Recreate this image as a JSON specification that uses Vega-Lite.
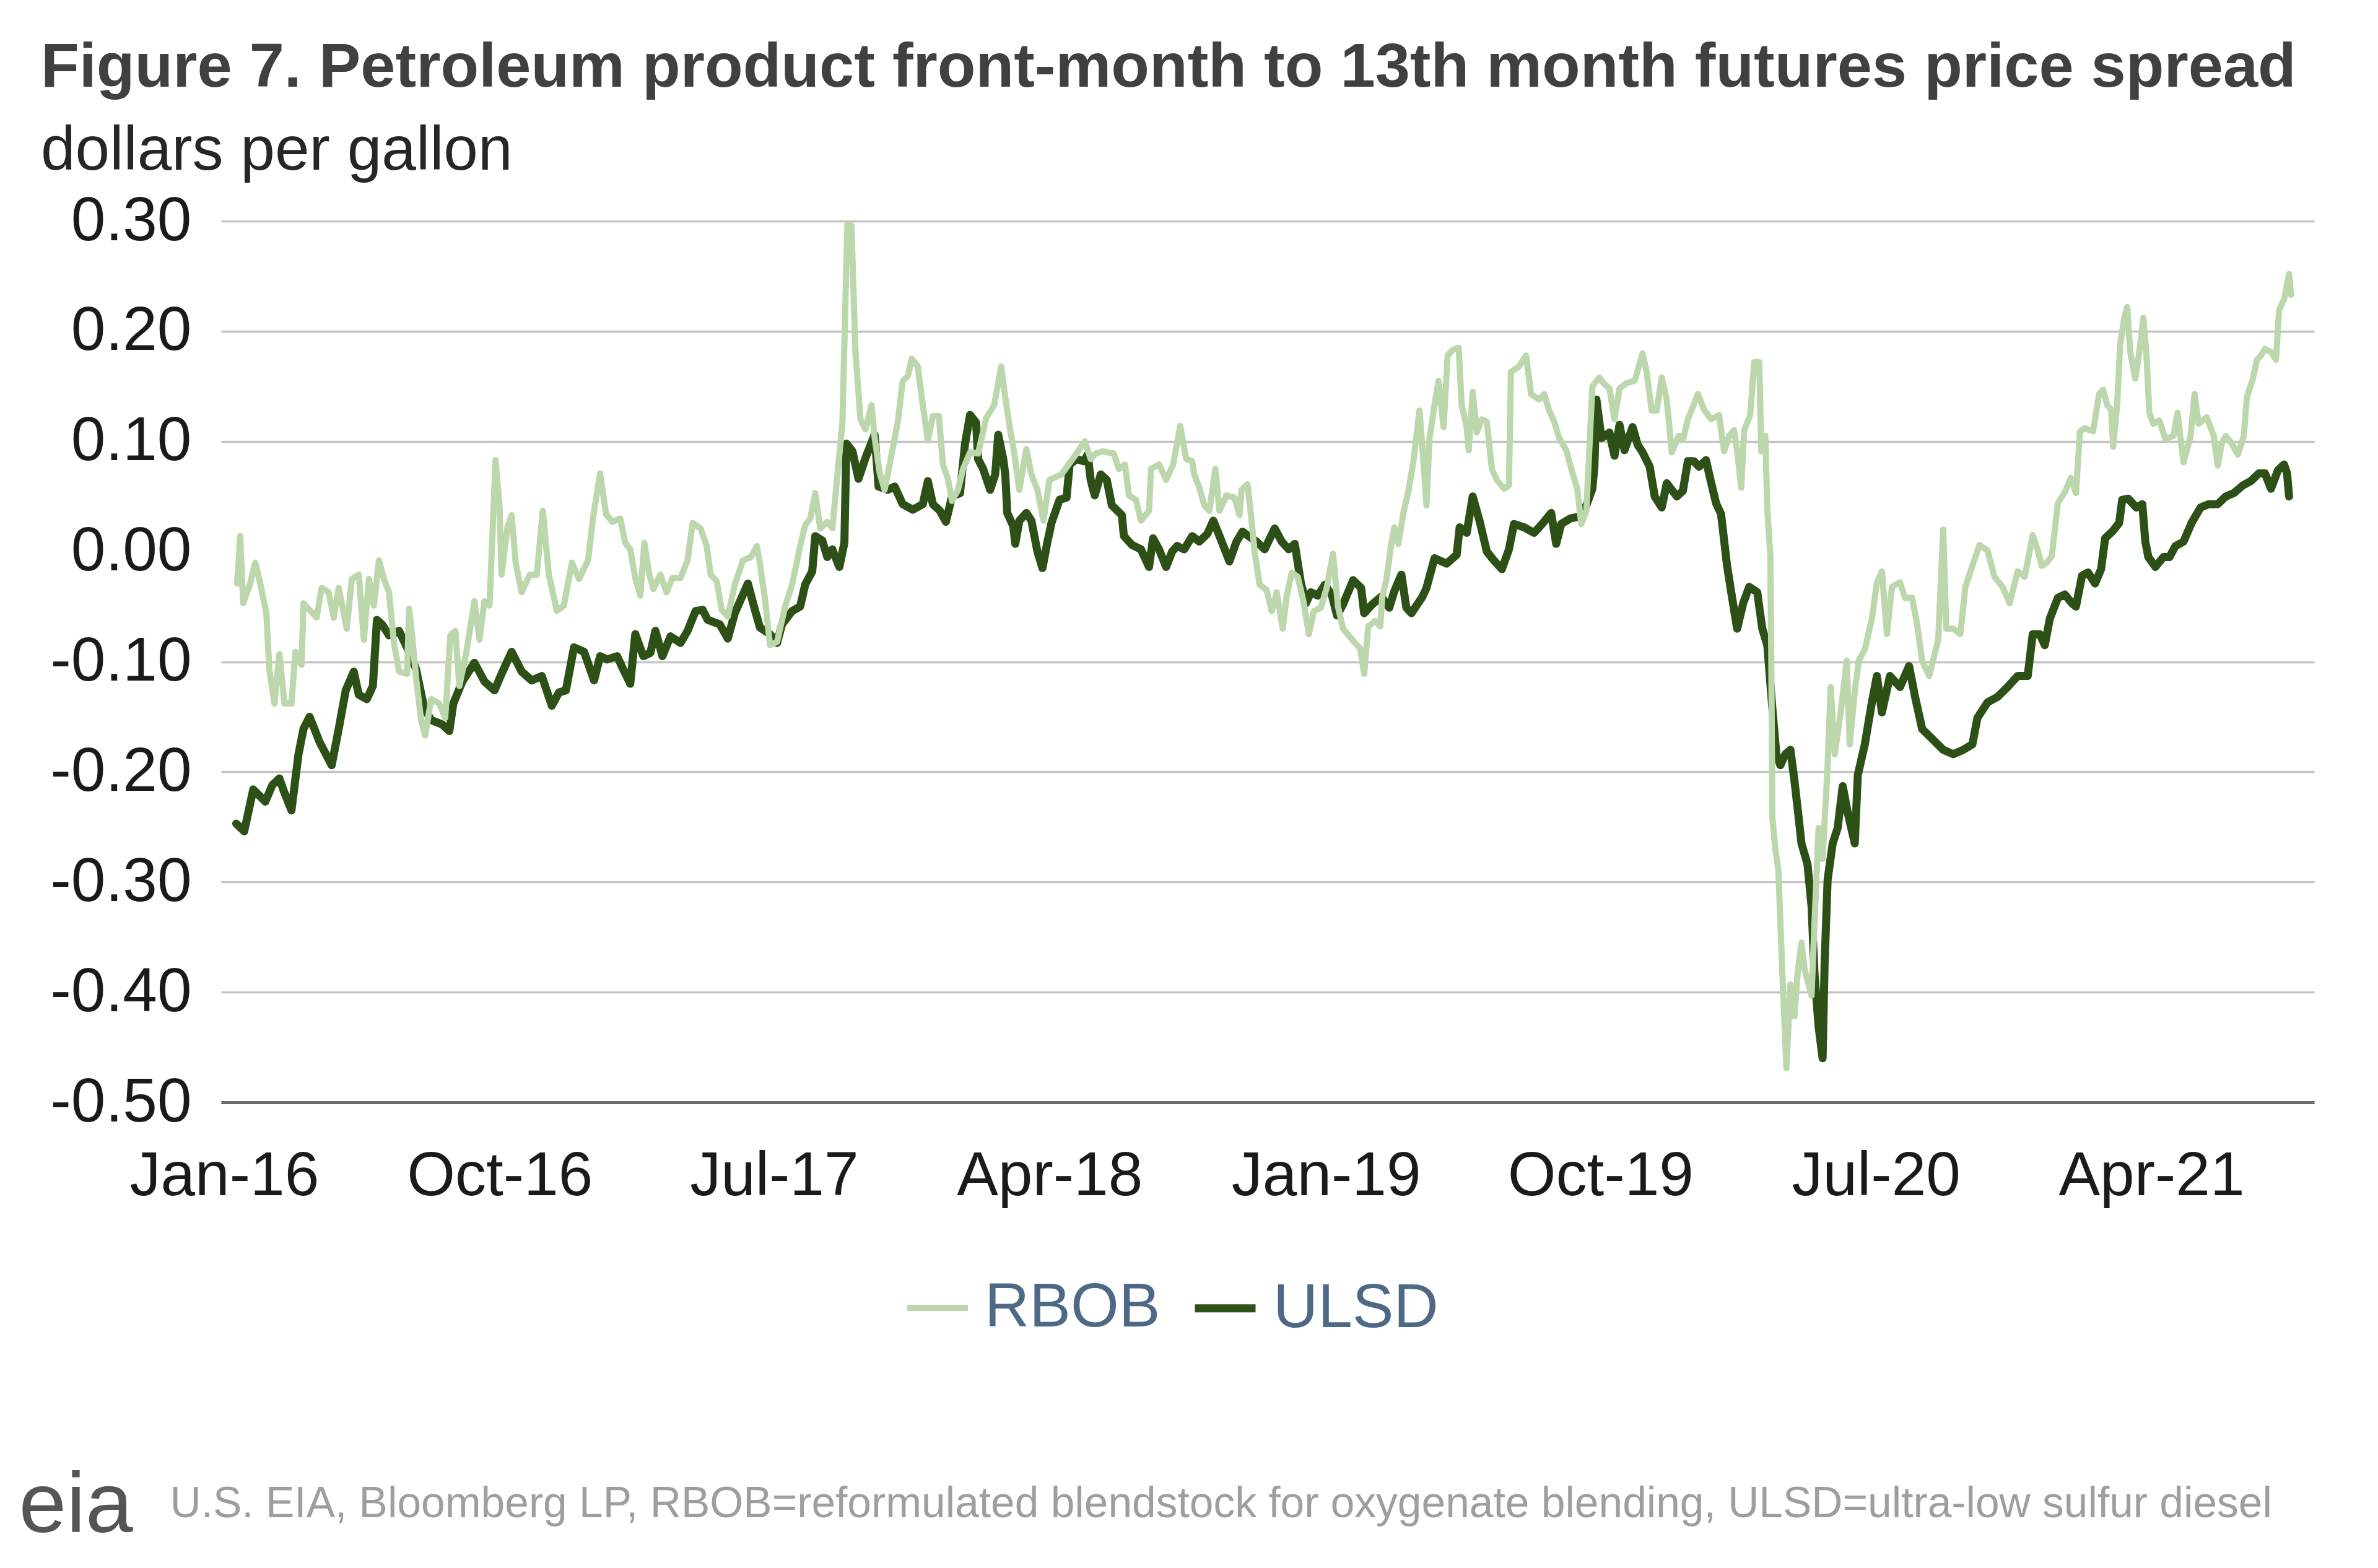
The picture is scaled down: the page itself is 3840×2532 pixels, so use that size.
{
  "$schema": "https://vega.github.io/schema/vega-lite/v6.json",
  "width": 3380,
  "height": 1423,
  "autosize": {"type": "none"},
  "padding": {"left": 357, "top": 357, "right": 103, "bottom": 752},
  "background": "white",
  "config": {"font": "Liberation Sans", "view": {"stroke": null}},
  "title": {
    "text": "Figure 7. Petroleum product front-month to 13th month futures price spread",
    "subtitle": "dollars per gallon",
    "anchor": "start",
    "frame": "group",
    "dx": -291,
    "offset": 12,
    "font": "Liberation Sans",
    "fontSize": 101,
    "fontWeight": "bold",
    "color": "#404040",
    "subtitleFont": "Liberation Sans",
    "subtitleFontSize": 100,
    "subtitleColor": "#262626",
    "subtitlePadding": 34
  },
  "datasets": {
    "spread": [
      {"date": "2016-01-13", "series": "ULSD", "value": -0.247},
      {"date": "2016-01-21", "series": "ULSD", "value": -0.254},
      {"date": "2016-01-30", "series": "ULSD", "value": -0.216},
      {"date": "2016-02-11", "series": "ULSD", "value": -0.227},
      {"date": "2016-02-18", "series": "ULSD", "value": -0.212},
      {"date": "2016-02-25", "series": "ULSD", "value": -0.206},
      {"date": "2016-03-01", "series": "ULSD", "value": -0.219},
      {"date": "2016-03-08", "series": "ULSD", "value": -0.235},
      {"date": "2016-03-15", "series": "ULSD", "value": -0.184},
      {"date": "2016-03-20", "series": "ULSD", "value": -0.161},
      {"date": "2016-03-26", "series": "ULSD", "value": -0.150},
      {"date": "2016-04-05", "series": "ULSD", "value": -0.173},
      {"date": "2016-04-17", "series": "ULSD", "value": -0.194},
      {"date": "2016-04-24", "series": "ULSD", "value": -0.161},
      {"date": "2016-05-01", "series": "ULSD", "value": -0.126},
      {"date": "2016-05-09", "series": "ULSD", "value": -0.109},
      {"date": "2016-05-14", "series": "ULSD", "value": -0.130},
      {"date": "2016-05-22", "series": "ULSD", "value": -0.134},
      {"date": "2016-05-28", "series": "ULSD", "value": -0.122},
      {"date": "2016-06-01", "series": "ULSD", "value": -0.062},
      {"date": "2016-06-06", "series": "ULSD", "value": -0.066},
      {"date": "2016-06-13", "series": "ULSD", "value": -0.076},
      {"date": "2016-06-23", "series": "ULSD", "value": -0.072},
      {"date": "2016-07-03", "series": "ULSD", "value": -0.091},
      {"date": "2016-07-10", "series": "ULSD", "value": -0.107},
      {"date": "2016-07-18", "series": "ULSD", "value": -0.142},
      {"date": "2016-07-25", "series": "ULSD", "value": -0.153},
      {"date": "2016-08-05", "series": "ULSD", "value": -0.157},
      {"date": "2016-08-12", "series": "ULSD", "value": -0.163},
      {"date": "2016-08-16", "series": "ULSD", "value": -0.138},
      {"date": "2016-08-25", "series": "ULSD", "value": -0.118},
      {"date": "2016-09-06", "series": "ULSD", "value": -0.101},
      {"date": "2016-09-16", "series": "ULSD", "value": -0.118},
      {"date": "2016-09-26", "series": "ULSD", "value": -0.126},
      {"date": "2016-10-03", "series": "ULSD", "value": -0.111},
      {"date": "2016-10-13", "series": "ULSD", "value": -0.091},
      {"date": "2016-10-23", "series": "ULSD", "value": -0.109},
      {"date": "2016-11-02", "series": "ULSD", "value": -0.117},
      {"date": "2016-11-12", "series": "ULSD", "value": -0.113},
      {"date": "2016-11-22", "series": "ULSD", "value": -0.140},
      {"date": "2016-11-29", "series": "ULSD", "value": -0.128},
      {"date": "2016-12-06", "series": "ULSD", "value": -0.126},
      {"date": "2016-12-14", "series": "ULSD", "value": -0.087},
      {"date": "2016-12-24", "series": "ULSD", "value": -0.091},
      {"date": "2016-12-29", "series": "ULSD", "value": -0.104},
      {"date": "2017-01-03", "series": "ULSD", "value": -0.117},
      {"date": "2017-01-09", "series": "ULSD", "value": -0.095},
      {"date": "2017-01-16", "series": "ULSD", "value": -0.098},
      {"date": "2017-01-26", "series": "ULSD", "value": -0.095},
      {"date": "2017-02-01", "series": "ULSD", "value": -0.107},
      {"date": "2017-02-08", "series": "ULSD", "value": -0.120},
      {"date": "2017-02-13", "series": "ULSD", "value": -0.075},
      {"date": "2017-02-21", "series": "ULSD", "value": -0.095},
      {"date": "2017-02-28", "series": "ULSD", "value": -0.092},
      {"date": "2017-03-05", "series": "ULSD", "value": -0.072},
      {"date": "2017-03-12", "series": "ULSD", "value": -0.095},
      {"date": "2017-03-20", "series": "ULSD", "value": -0.077},
      {"date": "2017-03-30", "series": "ULSD", "value": -0.083},
      {"date": "2017-04-06", "series": "ULSD", "value": -0.072},
      {"date": "2017-04-14", "series": "ULSD", "value": -0.054},
      {"date": "2017-04-21", "series": "ULSD", "value": -0.053},
      {"date": "2017-04-26", "series": "ULSD", "value": -0.062},
      {"date": "2017-05-08", "series": "ULSD", "value": -0.066},
      {"date": "2017-05-16", "series": "ULSD", "value": -0.079},
      {"date": "2017-05-23", "series": "ULSD", "value": -0.056},
      {"date": "2017-06-05", "series": "ULSD", "value": -0.029},
      {"date": "2017-06-12", "series": "ULSD", "value": -0.053},
      {"date": "2017-06-17", "series": "ULSD", "value": -0.069},
      {"date": "2017-06-27", "series": "ULSD", "value": -0.075},
      {"date": "2017-07-04", "series": "ULSD", "value": -0.083},
      {"date": "2017-07-09", "series": "ULSD", "value": -0.066},
      {"date": "2017-07-19", "series": "ULSD", "value": -0.054},
      {"date": "2017-07-27", "series": "ULSD", "value": -0.050},
      {"date": "2017-08-01", "series": "ULSD", "value": -0.030},
      {"date": "2017-08-08", "series": "ULSD", "value": -0.018},
      {"date": "2017-08-11", "series": "ULSD", "value": 0.014},
      {"date": "2017-08-18", "series": "ULSD", "value": 0.010},
      {"date": "2017-08-23", "series": "ULSD", "value": -0.005},
      {"date": "2017-08-28", "series": "ULSD", "value": 0.002},
      {"date": "2017-09-04", "series": "ULSD", "value": -0.014},
      {"date": "2017-09-09", "series": "ULSD", "value": 0.008},
      {"date": "2017-09-11", "series": "ULSD", "value": 0.098},
      {"date": "2017-09-17", "series": "ULSD", "value": 0.091},
      {"date": "2017-09-23", "series": "ULSD", "value": 0.066},
      {"date": "2017-09-30", "series": "ULSD", "value": 0.085},
      {"date": "2017-10-09", "series": "ULSD", "value": 0.106},
      {"date": "2017-10-13", "series": "ULSD", "value": 0.059},
      {"date": "2017-10-22", "series": "ULSD", "value": 0.056},
      {"date": "2017-10-29", "series": "ULSD", "value": 0.059},
      {"date": "2017-11-06", "series": "ULSD", "value": 0.043},
      {"date": "2017-11-16", "series": "ULSD", "value": 0.038},
      {"date": "2017-11-26", "series": "ULSD", "value": 0.043},
      {"date": "2017-12-01", "series": "ULSD", "value": 0.064},
      {"date": "2017-12-06", "series": "ULSD", "value": 0.043},
      {"date": "2017-12-13", "series": "ULSD", "value": 0.037},
      {"date": "2017-12-19", "series": "ULSD", "value": 0.027},
      {"date": "2017-12-25", "series": "ULSD", "value": 0.050},
      {"date": "2018-01-02", "series": "ULSD", "value": 0.053},
      {"date": "2018-01-07", "series": "ULSD", "value": 0.098},
      {"date": "2018-01-12", "series": "ULSD", "value": 0.124},
      {"date": "2018-01-18", "series": "ULSD", "value": 0.117},
      {"date": "2018-01-20", "series": "ULSD", "value": 0.084},
      {"date": "2018-01-25", "series": "ULSD", "value": 0.075},
      {"date": "2018-02-01", "series": "ULSD", "value": 0.056},
      {"date": "2018-02-06", "series": "ULSD", "value": 0.070},
      {"date": "2018-02-09", "series": "ULSD", "value": 0.106},
      {"date": "2018-02-14", "series": "ULSD", "value": 0.084},
      {"date": "2018-02-16", "series": "ULSD", "value": 0.070},
      {"date": "2018-02-18", "series": "ULSD", "value": 0.035},
      {"date": "2018-02-24", "series": "ULSD", "value": 0.023},
      {"date": "2018-02-26", "series": "ULSD", "value": 0.007},
      {"date": "2018-03-02", "series": "ULSD", "value": 0.028},
      {"date": "2018-03-09", "series": "ULSD", "value": 0.035},
      {"date": "2018-03-14", "series": "ULSD", "value": 0.028},
      {"date": "2018-03-20", "series": "ULSD", "value": 0.000},
      {"date": "2018-03-25", "series": "ULSD", "value": -0.015},
      {"date": "2018-03-30", "series": "ULSD", "value": 0.009},
      {"date": "2018-04-03", "series": "ULSD", "value": 0.026},
      {"date": "2018-04-11", "series": "ULSD", "value": 0.047},
      {"date": "2018-04-18", "series": "ULSD", "value": 0.049},
      {"date": "2018-04-21", "series": "ULSD", "value": 0.079},
      {"date": "2018-04-28", "series": "ULSD", "value": 0.084},
      {"date": "2018-05-05", "series": "ULSD", "value": 0.082},
      {"date": "2018-05-09", "series": "ULSD", "value": 0.088},
      {"date": "2018-05-12", "series": "ULSD", "value": 0.065},
      {"date": "2018-05-16", "series": "ULSD", "value": 0.051},
      {"date": "2018-05-22", "series": "ULSD", "value": 0.070},
      {"date": "2018-05-28", "series": "ULSD", "value": 0.065},
      {"date": "2018-06-02", "series": "ULSD", "value": 0.042},
      {"date": "2018-06-12", "series": "ULSD", "value": 0.033},
      {"date": "2018-06-14", "series": "ULSD", "value": 0.014},
      {"date": "2018-06-22", "series": "ULSD", "value": 0.006},
      {"date": "2018-07-01", "series": "ULSD", "value": 0.002},
      {"date": "2018-07-09", "series": "ULSD", "value": -0.014},
      {"date": "2018-07-13", "series": "ULSD", "value": 0.012},
      {"date": "2018-07-19", "series": "ULSD", "value": 0.002},
      {"date": "2018-07-26", "series": "ULSD", "value": -0.014},
      {"date": "2018-08-01", "series": "ULSD", "value": 0.000},
      {"date": "2018-08-06", "series": "ULSD", "value": 0.005},
      {"date": "2018-08-13", "series": "ULSD", "value": 0.002},
      {"date": "2018-08-21", "series": "ULSD", "value": 0.014},
      {"date": "2018-08-28", "series": "ULSD", "value": 0.009},
      {"date": "2018-09-05", "series": "ULSD", "value": 0.016},
      {"date": "2018-09-11", "series": "ULSD", "value": 0.028},
      {"date": "2018-09-18", "series": "ULSD", "value": 0.012},
      {"date": "2018-09-27", "series": "ULSD", "value": -0.009},
      {"date": "2018-10-04", "series": "ULSD", "value": 0.009},
      {"date": "2018-10-10", "series": "ULSD", "value": 0.018},
      {"date": "2018-10-16", "series": "ULSD", "value": 0.014},
      {"date": "2018-10-24", "series": "ULSD", "value": 0.009},
      {"date": "2018-11-01", "series": "ULSD", "value": 0.002},
      {"date": "2018-11-11", "series": "ULSD", "value": 0.021},
      {"date": "2018-11-18", "series": "ULSD", "value": 0.009},
      {"date": "2018-11-25", "series": "ULSD", "value": 0.002},
      {"date": "2018-12-01", "series": "ULSD", "value": 0.007},
      {"date": "2018-12-07", "series": "ULSD", "value": -0.028},
      {"date": "2018-12-12", "series": "ULSD", "value": -0.047},
      {"date": "2018-12-17", "series": "ULSD", "value": -0.037},
      {"date": "2018-12-24", "series": "ULSD", "value": -0.040},
      {"date": "2018-12-31", "series": "ULSD", "value": -0.030},
      {"date": "2019-01-07", "series": "ULSD", "value": -0.040},
      {"date": "2019-01-12", "series": "ULSD", "value": -0.058},
      {"date": "2019-01-18", "series": "ULSD", "value": -0.048},
      {"date": "2019-01-28", "series": "ULSD", "value": -0.026},
      {"date": "2019-02-05", "series": "ULSD", "value": -0.033},
      {"date": "2019-02-08", "series": "ULSD", "value": -0.056},
      {"date": "2019-02-16", "series": "ULSD", "value": -0.048},
      {"date": "2019-02-25", "series": "ULSD", "value": -0.041},
      {"date": "2019-03-05", "series": "ULSD", "value": -0.051},
      {"date": "2019-03-10", "series": "ULSD", "value": -0.036},
      {"date": "2019-03-17", "series": "ULSD", "value": -0.021},
      {"date": "2019-03-22", "series": "ULSD", "value": -0.051},
      {"date": "2019-03-27", "series": "ULSD", "value": -0.056},
      {"date": "2019-04-07", "series": "ULSD", "value": -0.041},
      {"date": "2019-04-11", "series": "ULSD", "value": -0.033},
      {"date": "2019-04-19", "series": "ULSD", "value": -0.006},
      {"date": "2019-05-01", "series": "ULSD", "value": -0.011},
      {"date": "2019-05-11", "series": "ULSD", "value": -0.003},
      {"date": "2019-05-14", "series": "ULSD", "value": 0.022},
      {"date": "2019-05-21", "series": "ULSD", "value": 0.017},
      {"date": "2019-05-27", "series": "ULSD", "value": 0.050},
      {"date": "2019-06-03", "series": "ULSD", "value": 0.027},
      {"date": "2019-06-10", "series": "ULSD", "value": 0.000},
      {"date": "2019-06-17", "series": "ULSD", "value": -0.008},
      {"date": "2019-06-25", "series": "ULSD", "value": -0.016},
      {"date": "2019-07-02", "series": "ULSD", "value": 0.002},
      {"date": "2019-07-07", "series": "ULSD", "value": 0.025},
      {"date": "2019-07-17", "series": "ULSD", "value": 0.022},
      {"date": "2019-07-27", "series": "ULSD", "value": 0.017},
      {"date": "2019-08-04", "series": "ULSD", "value": 0.025},
      {"date": "2019-08-13", "series": "ULSD", "value": 0.035},
      {"date": "2019-08-18", "series": "ULSD", "value": 0.007},
      {"date": "2019-08-23", "series": "ULSD", "value": 0.025},
      {"date": "2019-09-01", "series": "ULSD", "value": 0.030},
      {"date": "2019-09-11", "series": "ULSD", "value": 0.032},
      {"date": "2019-09-17", "series": "ULSD", "value": 0.042},
      {"date": "2019-09-23", "series": "ULSD", "value": 0.057},
      {"date": "2019-09-25", "series": "ULSD", "value": 0.077},
      {"date": "2019-09-27", "series": "ULSD", "value": 0.138},
      {"date": "2019-10-02", "series": "ULSD", "value": 0.103},
      {"date": "2019-10-10", "series": "ULSD", "value": 0.108},
      {"date": "2019-10-15", "series": "ULSD", "value": 0.087},
      {"date": "2019-10-20", "series": "ULSD", "value": 0.115},
      {"date": "2019-10-25", "series": "ULSD", "value": 0.092},
      {"date": "2019-11-02", "series": "ULSD", "value": 0.113},
      {"date": "2019-11-07", "series": "ULSD", "value": 0.097},
      {"date": "2019-11-12", "series": "ULSD", "value": 0.090},
      {"date": "2019-11-19", "series": "ULSD", "value": 0.077},
      {"date": "2019-11-24", "series": "ULSD", "value": 0.050},
      {"date": "2019-12-01", "series": "ULSD", "value": 0.040},
      {"date": "2019-12-06", "series": "ULSD", "value": 0.062},
      {"date": "2019-12-16", "series": "ULSD", "value": 0.050},
      {"date": "2019-12-22", "series": "ULSD", "value": 0.055},
      {"date": "2019-12-27", "series": "ULSD", "value": 0.082},
      {"date": "2020-01-02", "series": "ULSD", "value": 0.082},
      {"date": "2020-01-07", "series": "ULSD", "value": 0.077},
      {"date": "2020-01-14", "series": "ULSD", "value": 0.083},
      {"date": "2020-01-19", "series": "ULSD", "value": 0.063},
      {"date": "2020-01-24", "series": "ULSD", "value": 0.044},
      {"date": "2020-01-29", "series": "ULSD", "value": 0.034},
      {"date": "2020-02-04", "series": "ULSD", "value": -0.013},
      {"date": "2020-02-09", "series": "ULSD", "value": -0.042},
      {"date": "2020-02-14", "series": "ULSD", "value": -0.070},
      {"date": "2020-02-20", "series": "ULSD", "value": -0.047},
      {"date": "2020-02-26", "series": "ULSD", "value": -0.032},
      {"date": "2020-03-05", "series": "ULSD", "value": -0.037},
      {"date": "2020-03-10", "series": "ULSD", "value": -0.070},
      {"date": "2020-03-15", "series": "ULSD", "value": -0.085},
      {"date": "2020-03-20", "series": "ULSD", "value": -0.142},
      {"date": "2020-03-24", "series": "ULSD", "value": -0.184},
      {"date": "2020-03-28", "series": "ULSD", "value": -0.194},
      {"date": "2020-04-02", "series": "ULSD", "value": -0.184},
      {"date": "2020-04-07", "series": "ULSD", "value": -0.180},
      {"date": "2020-04-11", "series": "ULSD", "value": -0.208},
      {"date": "2020-04-14", "series": "ULSD", "value": -0.232},
      {"date": "2020-04-18", "series": "ULSD", "value": -0.265},
      {"date": "2020-04-24", "series": "ULSD", "value": -0.284},
      {"date": "2020-04-28", "series": "ULSD", "value": -0.322},
      {"date": "2020-05-01", "series": "ULSD", "value": -0.384},
      {"date": "2020-05-05", "series": "ULSD", "value": -0.431},
      {"date": "2020-05-09", "series": "ULSD", "value": -0.460},
      {"date": "2020-05-11", "series": "ULSD", "value": -0.374},
      {"date": "2020-05-14", "series": "ULSD", "value": -0.298},
      {"date": "2020-05-19", "series": "ULSD", "value": -0.265},
      {"date": "2020-05-24", "series": "ULSD", "value": -0.251},
      {"date": "2020-05-29", "series": "ULSD", "value": -0.213},
      {"date": "2020-06-03", "series": "ULSD", "value": -0.237},
      {"date": "2020-06-10", "series": "ULSD", "value": -0.265},
      {"date": "2020-06-13", "series": "ULSD", "value": -0.203},
      {"date": "2020-06-20", "series": "ULSD", "value": -0.175},
      {"date": "2020-06-27", "series": "ULSD", "value": -0.137},
      {"date": "2020-07-02", "series": "ULSD", "value": -0.113},
      {"date": "2020-07-07", "series": "ULSD", "value": -0.146},
      {"date": "2020-07-15", "series": "ULSD", "value": -0.113},
      {"date": "2020-07-25", "series": "ULSD", "value": -0.123},
      {"date": "2020-08-03", "series": "ULSD", "value": -0.104},
      {"date": "2020-08-09", "series": "ULSD", "value": -0.132},
      {"date": "2020-08-16", "series": "ULSD", "value": -0.161},
      {"date": "2020-08-26", "series": "ULSD", "value": -0.170},
      {"date": "2020-09-06", "series": "ULSD", "value": -0.180},
      {"date": "2020-09-16", "series": "ULSD", "value": -0.184},
      {"date": "2020-09-26", "series": "ULSD", "value": -0.180},
      {"date": "2020-10-05", "series": "ULSD", "value": -0.175},
      {"date": "2020-10-10", "series": "ULSD", "value": -0.151},
      {"date": "2020-10-20", "series": "ULSD", "value": -0.137},
      {"date": "2020-10-30", "series": "ULSD", "value": -0.132},
      {"date": "2020-11-09", "series": "ULSD", "value": -0.123},
      {"date": "2020-11-19", "series": "ULSD", "value": -0.113},
      {"date": "2020-11-29", "series": "ULSD", "value": -0.113},
      {"date": "2020-12-04", "series": "ULSD", "value": -0.075},
      {"date": "2020-12-11", "series": "ULSD", "value": -0.075},
      {"date": "2020-12-16", "series": "ULSD", "value": -0.085},
      {"date": "2020-12-21", "series": "ULSD", "value": -0.061},
      {"date": "2020-12-29", "series": "ULSD", "value": -0.042},
      {"date": "2021-01-05", "series": "ULSD", "value": -0.039},
      {"date": "2021-01-12", "series": "ULSD", "value": -0.047},
      {"date": "2021-01-16", "series": "ULSD", "value": -0.050},
      {"date": "2021-01-22", "series": "ULSD", "value": -0.022},
      {"date": "2021-01-28", "series": "ULSD", "value": -0.019},
      {"date": "2021-02-04", "series": "ULSD", "value": -0.029},
      {"date": "2021-02-10", "series": "ULSD", "value": -0.016},
      {"date": "2021-02-14", "series": "ULSD", "value": 0.012},
      {"date": "2021-02-22", "series": "ULSD", "value": 0.019},
      {"date": "2021-02-28", "series": "ULSD", "value": 0.026},
      {"date": "2021-03-03", "series": "ULSD", "value": 0.047},
      {"date": "2021-03-09", "series": "ULSD", "value": 0.048},
      {"date": "2021-03-17", "series": "ULSD", "value": 0.040},
      {"date": "2021-03-23", "series": "ULSD", "value": 0.043},
      {"date": "2021-03-26", "series": "ULSD", "value": 0.009},
      {"date": "2021-03-29", "series": "ULSD", "value": -0.005},
      {"date": "2021-04-05", "series": "ULSD", "value": -0.014},
      {"date": "2021-04-13", "series": "ULSD", "value": -0.005},
      {"date": "2021-04-19", "series": "ULSD", "value": -0.005},
      {"date": "2021-04-25", "series": "ULSD", "value": 0.005},
      {"date": "2021-05-03", "series": "ULSD", "value": 0.009},
      {"date": "2021-05-11", "series": "ULSD", "value": 0.026},
      {"date": "2021-05-20", "series": "ULSD", "value": 0.040},
      {"date": "2021-05-28", "series": "ULSD", "value": 0.043},
      {"date": "2021-06-06", "series": "ULSD", "value": 0.043},
      {"date": "2021-06-14", "series": "ULSD", "value": 0.050},
      {"date": "2021-06-22", "series": "ULSD", "value": 0.053},
      {"date": "2021-07-01", "series": "ULSD", "value": 0.060},
      {"date": "2021-07-09", "series": "ULSD", "value": 0.064},
      {"date": "2021-07-17", "series": "ULSD", "value": 0.071},
      {"date": "2021-07-23", "series": "ULSD", "value": 0.071},
      {"date": "2021-07-29", "series": "ULSD", "value": 0.057},
      {"date": "2021-08-05", "series": "ULSD", "value": 0.074},
      {"date": "2021-08-11", "series": "ULSD", "value": 0.079},
      {"date": "2021-08-14", "series": "ULSD", "value": 0.071},
      {"date": "2021-08-16", "series": "ULSD", "value": 0.050},
      {"date": "2016-01-14", "series": "RBOB", "value": -0.029},
      {"date": "2016-01-17", "series": "RBOB", "value": 0.014},
      {"date": "2016-01-20", "series": "RBOB", "value": -0.047},
      {"date": "2016-01-27", "series": "RBOB", "value": -0.029},
      {"date": "2016-02-01", "series": "RBOB", "value": -0.010},
      {"date": "2016-02-06", "series": "RBOB", "value": -0.029},
      {"date": "2016-02-12", "series": "RBOB", "value": -0.056},
      {"date": "2016-02-15", "series": "RBOB", "value": -0.107},
      {"date": "2016-02-20", "series": "RBOB", "value": -0.138},
      {"date": "2016-02-25", "series": "RBOB", "value": -0.093},
      {"date": "2016-03-01", "series": "RBOB", "value": -0.138},
      {"date": "2016-03-08", "series": "RBOB", "value": -0.138},
      {"date": "2016-03-12", "series": "RBOB", "value": -0.091},
      {"date": "2016-03-18", "series": "RBOB", "value": -0.103},
      {"date": "2016-03-20", "series": "RBOB", "value": -0.047},
      {"date": "2016-03-25", "series": "RBOB", "value": -0.052},
      {"date": "2016-04-02", "series": "RBOB", "value": -0.060},
      {"date": "2016-04-07", "series": "RBOB", "value": -0.033},
      {"date": "2016-04-14", "series": "RBOB", "value": -0.037},
      {"date": "2016-04-19", "series": "RBOB", "value": -0.060},
      {"date": "2016-04-24", "series": "RBOB", "value": -0.033},
      {"date": "2016-05-02", "series": "RBOB", "value": -0.070},
      {"date": "2016-05-07", "series": "RBOB", "value": -0.025},
      {"date": "2016-05-14", "series": "RBOB", "value": -0.021},
      {"date": "2016-05-19", "series": "RBOB", "value": -0.080},
      {"date": "2016-05-24", "series": "RBOB", "value": -0.025},
      {"date": "2016-05-29", "series": "RBOB", "value": -0.049},
      {"date": "2016-06-03", "series": "RBOB", "value": -0.008},
      {"date": "2016-06-08", "series": "RBOB", "value": -0.025},
      {"date": "2016-06-13", "series": "RBOB", "value": -0.037},
      {"date": "2016-06-18", "series": "RBOB", "value": -0.083},
      {"date": "2016-06-23", "series": "RBOB", "value": -0.109},
      {"date": "2016-07-01", "series": "RBOB", "value": -0.111},
      {"date": "2016-07-03", "series": "RBOB", "value": -0.052},
      {"date": "2016-07-06", "series": "RBOB", "value": -0.076},
      {"date": "2016-07-10", "series": "RBOB", "value": -0.115},
      {"date": "2016-07-15", "series": "RBOB", "value": -0.153},
      {"date": "2016-07-19", "series": "RBOB", "value": -0.167},
      {"date": "2016-07-25", "series": "RBOB", "value": -0.134},
      {"date": "2016-08-02", "series": "RBOB", "value": -0.138},
      {"date": "2016-08-08", "series": "RBOB", "value": -0.151},
      {"date": "2016-08-13", "series": "RBOB", "value": -0.076},
      {"date": "2016-08-18", "series": "RBOB", "value": -0.072},
      {"date": "2016-08-22", "series": "RBOB", "value": -0.122},
      {"date": "2016-08-29", "series": "RBOB", "value": -0.091},
      {"date": "2016-09-06", "series": "RBOB", "value": -0.045},
      {"date": "2016-09-11", "series": "RBOB", "value": -0.080},
      {"date": "2016-09-16", "series": "RBOB", "value": -0.045},
      {"date": "2016-09-21", "series": "RBOB", "value": -0.049},
      {"date": "2016-09-27", "series": "RBOB", "value": 0.083},
      {"date": "2016-10-01", "series": "RBOB", "value": 0.041},
      {"date": "2016-10-03", "series": "RBOB", "value": -0.021},
      {"date": "2016-10-09", "series": "RBOB", "value": 0.023},
      {"date": "2016-10-13", "series": "RBOB", "value": 0.033},
      {"date": "2016-10-17", "series": "RBOB", "value": -0.010},
      {"date": "2016-10-23", "series": "RBOB", "value": -0.037},
      {"date": "2016-10-31", "series": "RBOB", "value": -0.021},
      {"date": "2016-11-07", "series": "RBOB", "value": -0.021},
      {"date": "2016-11-13", "series": "RBOB", "value": 0.037},
      {"date": "2016-11-19", "series": "RBOB", "value": -0.021},
      {"date": "2016-11-27", "series": "RBOB", "value": -0.054},
      {"date": "2016-12-04", "series": "RBOB", "value": -0.049},
      {"date": "2016-12-12", "series": "RBOB", "value": -0.010},
      {"date": "2016-12-19", "series": "RBOB", "value": -0.025},
      {"date": "2016-12-28", "series": "RBOB", "value": -0.008},
      {"date": "2017-01-02", "series": "RBOB", "value": 0.031},
      {"date": "2017-01-09", "series": "RBOB", "value": 0.071},
      {"date": "2017-01-15", "series": "RBOB", "value": 0.034},
      {"date": "2017-01-21", "series": "RBOB", "value": 0.027},
      {"date": "2017-01-29", "series": "RBOB", "value": 0.030},
      {"date": "2017-02-03", "series": "RBOB", "value": 0.008},
      {"date": "2017-02-08", "series": "RBOB", "value": 0.002},
      {"date": "2017-02-13", "series": "RBOB", "value": -0.024},
      {"date": "2017-02-18", "series": "RBOB", "value": -0.040},
      {"date": "2017-02-22", "series": "RBOB", "value": 0.008},
      {"date": "2017-02-27", "series": "RBOB", "value": -0.021},
      {"date": "2017-03-03", "series": "RBOB", "value": -0.034},
      {"date": "2017-03-10", "series": "RBOB", "value": -0.021},
      {"date": "2017-03-16", "series": "RBOB", "value": -0.037},
      {"date": "2017-03-22", "series": "RBOB", "value": -0.024},
      {"date": "2017-03-30", "series": "RBOB", "value": -0.024},
      {"date": "2017-04-06", "series": "RBOB", "value": -0.008},
      {"date": "2017-04-11", "series": "RBOB", "value": 0.026},
      {"date": "2017-04-19", "series": "RBOB", "value": 0.021},
      {"date": "2017-04-25", "series": "RBOB", "value": 0.005},
      {"date": "2017-04-29", "series": "RBOB", "value": -0.021},
      {"date": "2017-05-05", "series": "RBOB", "value": -0.027},
      {"date": "2017-05-10", "series": "RBOB", "value": -0.053},
      {"date": "2017-05-16", "series": "RBOB", "value": -0.059},
      {"date": "2017-05-23", "series": "RBOB", "value": -0.030},
      {"date": "2017-05-31", "series": "RBOB", "value": -0.008},
      {"date": "2017-06-08", "series": "RBOB", "value": -0.005},
      {"date": "2017-06-14", "series": "RBOB", "value": 0.005},
      {"date": "2017-06-17", "series": "RBOB", "value": -0.011},
      {"date": "2017-06-22", "series": "RBOB", "value": -0.043},
      {"date": "2017-06-27", "series": "RBOB", "value": -0.085},
      {"date": "2017-07-04", "series": "RBOB", "value": -0.082},
      {"date": "2017-07-12", "series": "RBOB", "value": -0.050},
      {"date": "2017-07-19", "series": "RBOB", "value": -0.030},
      {"date": "2017-07-27", "series": "RBOB", "value": 0.005},
      {"date": "2017-08-01", "series": "RBOB", "value": 0.024},
      {"date": "2017-08-06", "series": "RBOB", "value": 0.030},
      {"date": "2017-08-11", "series": "RBOB", "value": 0.053},
      {"date": "2017-08-16", "series": "RBOB", "value": 0.021},
      {"date": "2017-08-23", "series": "RBOB", "value": 0.027},
      {"date": "2017-08-28", "series": "RBOB", "value": 0.021},
      {"date": "2017-09-02", "series": "RBOB", "value": 0.069},
      {"date": "2017-09-07", "series": "RBOB", "value": 0.117},
      {"date": "2017-09-12", "series": "RBOB", "value": 0.298},
      {"date": "2017-09-16", "series": "RBOB", "value": 0.296},
      {"date": "2017-09-20", "series": "RBOB", "value": 0.181},
      {"date": "2017-09-25", "series": "RBOB", "value": 0.120},
      {"date": "2017-09-30", "series": "RBOB", "value": 0.111},
      {"date": "2017-10-06", "series": "RBOB", "value": 0.133},
      {"date": "2017-10-09", "series": "RBOB", "value": 0.104},
      {"date": "2017-10-14", "series": "RBOB", "value": 0.072},
      {"date": "2017-10-19", "series": "RBOB", "value": 0.056},
      {"date": "2017-10-24", "series": "RBOB", "value": 0.079},
      {"date": "2017-11-01", "series": "RBOB", "value": 0.117},
      {"date": "2017-11-06", "series": "RBOB", "value": 0.155},
      {"date": "2017-11-11", "series": "RBOB", "value": 0.159},
      {"date": "2017-11-15", "series": "RBOB", "value": 0.175},
      {"date": "2017-11-21", "series": "RBOB", "value": 0.168},
      {"date": "2017-11-26", "series": "RBOB", "value": 0.133},
      {"date": "2017-12-01", "series": "RBOB", "value": 0.101},
      {"date": "2017-12-06", "series": "RBOB", "value": 0.123},
      {"date": "2017-12-12", "series": "RBOB", "value": 0.123},
      {"date": "2017-12-16", "series": "RBOB", "value": 0.079},
      {"date": "2017-12-21", "series": "RBOB", "value": 0.066},
      {"date": "2017-12-25", "series": "RBOB", "value": 0.046},
      {"date": "2017-12-31", "series": "RBOB", "value": 0.056},
      {"date": "2018-01-05", "series": "RBOB", "value": 0.075},
      {"date": "2018-01-12", "series": "RBOB", "value": 0.090},
      {"date": "2018-01-20", "series": "RBOB", "value": 0.089},
      {"date": "2018-01-28", "series": "RBOB", "value": 0.121},
      {"date": "2018-02-05", "series": "RBOB", "value": 0.133},
      {"date": "2018-02-12", "series": "RBOB", "value": 0.168},
      {"date": "2018-02-16", "series": "RBOB", "value": 0.140},
      {"date": "2018-02-21", "series": "RBOB", "value": 0.110},
      {"date": "2018-02-25", "series": "RBOB", "value": 0.089},
      {"date": "2018-03-02", "series": "RBOB", "value": 0.056},
      {"date": "2018-03-09", "series": "RBOB", "value": 0.093},
      {"date": "2018-03-14", "series": "RBOB", "value": 0.070},
      {"date": "2018-03-20", "series": "RBOB", "value": 0.056},
      {"date": "2018-03-26", "series": "RBOB", "value": 0.028},
      {"date": "2018-04-01", "series": "RBOB", "value": 0.065},
      {"date": "2018-04-08", "series": "RBOB", "value": 0.068},
      {"date": "2018-04-13", "series": "RBOB", "value": 0.070},
      {"date": "2018-04-20", "series": "RBOB", "value": 0.079},
      {"date": "2018-04-28", "series": "RBOB", "value": 0.089},
      {"date": "2018-05-06", "series": "RBOB", "value": 0.100},
      {"date": "2018-05-12", "series": "RBOB", "value": 0.084},
      {"date": "2018-05-17", "series": "RBOB", "value": 0.089},
      {"date": "2018-05-24", "series": "RBOB", "value": 0.091},
      {"date": "2018-06-04", "series": "RBOB", "value": 0.089},
      {"date": "2018-06-09", "series": "RBOB", "value": 0.075},
      {"date": "2018-06-15", "series": "RBOB", "value": 0.079},
      {"date": "2018-06-19", "series": "RBOB", "value": 0.051},
      {"date": "2018-06-26", "series": "RBOB", "value": 0.047},
      {"date": "2018-07-01", "series": "RBOB", "value": 0.028},
      {"date": "2018-07-09", "series": "RBOB", "value": 0.037},
      {"date": "2018-07-11", "series": "RBOB", "value": 0.075},
      {"date": "2018-07-19", "series": "RBOB", "value": 0.079},
      {"date": "2018-07-26", "series": "RBOB", "value": 0.065},
      {"date": "2018-08-02", "series": "RBOB", "value": 0.079},
      {"date": "2018-08-09", "series": "RBOB", "value": 0.114},
      {"date": "2018-08-15", "series": "RBOB", "value": 0.084},
      {"date": "2018-08-21", "series": "RBOB", "value": 0.082},
      {"date": "2018-08-23", "series": "RBOB", "value": 0.070},
      {"date": "2018-08-28", "series": "RBOB", "value": 0.058},
      {"date": "2018-09-02", "series": "RBOB", "value": 0.042},
      {"date": "2018-09-07", "series": "RBOB", "value": 0.037},
      {"date": "2018-09-13", "series": "RBOB", "value": 0.075},
      {"date": "2018-09-17", "series": "RBOB", "value": 0.037},
      {"date": "2018-09-24", "series": "RBOB", "value": 0.051},
      {"date": "2018-10-02", "series": "RBOB", "value": 0.049},
      {"date": "2018-10-07", "series": "RBOB", "value": 0.033},
      {"date": "2018-10-09", "series": "RBOB", "value": 0.056},
      {"date": "2018-10-15", "series": "RBOB", "value": 0.061},
      {"date": "2018-10-19", "series": "RBOB", "value": 0.028},
      {"date": "2018-10-22", "series": "RBOB", "value": 0.000},
      {"date": "2018-10-27", "series": "RBOB", "value": -0.030},
      {"date": "2018-11-03", "series": "RBOB", "value": -0.035},
      {"date": "2018-11-08", "series": "RBOB", "value": -0.054},
      {"date": "2018-11-13", "series": "RBOB", "value": -0.037},
      {"date": "2018-11-19", "series": "RBOB", "value": -0.070},
      {"date": "2018-11-23", "series": "RBOB", "value": -0.040},
      {"date": "2018-11-28", "series": "RBOB", "value": -0.019},
      {"date": "2018-12-04", "series": "RBOB", "value": -0.023},
      {"date": "2018-12-10", "series": "RBOB", "value": -0.047},
      {"date": "2018-12-15", "series": "RBOB", "value": -0.075},
      {"date": "2018-12-20", "series": "RBOB", "value": -0.054},
      {"date": "2018-12-27", "series": "RBOB", "value": -0.051},
      {"date": "2019-01-02", "series": "RBOB", "value": -0.032},
      {"date": "2019-01-08", "series": "RBOB", "value": -0.002},
      {"date": "2019-01-13", "series": "RBOB", "value": -0.050},
      {"date": "2019-01-18", "series": "RBOB", "value": -0.070},
      {"date": "2019-01-28", "series": "RBOB", "value": -0.081},
      {"date": "2019-02-04", "series": "RBOB", "value": -0.088},
      {"date": "2019-02-08", "series": "RBOB", "value": -0.111},
      {"date": "2019-02-12", "series": "RBOB", "value": -0.068},
      {"date": "2019-02-19", "series": "RBOB", "value": -0.063},
      {"date": "2019-02-24", "series": "RBOB", "value": -0.068},
      {"date": "2019-02-26", "series": "RBOB", "value": -0.041},
      {"date": "2019-03-02", "series": "RBOB", "value": -0.026},
      {"date": "2019-03-07", "series": "RBOB", "value": 0.007},
      {"date": "2019-03-10", "series": "RBOB", "value": 0.022},
      {"date": "2019-03-14", "series": "RBOB", "value": 0.007},
      {"date": "2019-03-19", "series": "RBOB", "value": 0.035},
      {"date": "2019-03-24", "series": "RBOB", "value": 0.055},
      {"date": "2019-03-29", "series": "RBOB", "value": 0.082},
      {"date": "2019-04-04", "series": "RBOB", "value": 0.128},
      {"date": "2019-04-08", "series": "RBOB", "value": 0.082},
      {"date": "2019-04-11", "series": "RBOB", "value": 0.042},
      {"date": "2019-04-14", "series": "RBOB", "value": 0.103},
      {"date": "2019-04-19", "series": "RBOB", "value": 0.133},
      {"date": "2019-04-23", "series": "RBOB", "value": 0.155},
      {"date": "2019-04-28", "series": "RBOB", "value": 0.113},
      {"date": "2019-05-02", "series": "RBOB", "value": 0.178},
      {"date": "2019-05-07", "series": "RBOB", "value": 0.183},
      {"date": "2019-05-13", "series": "RBOB", "value": 0.185},
      {"date": "2019-05-16", "series": "RBOB", "value": 0.133},
      {"date": "2019-05-21", "series": "RBOB", "value": 0.113},
      {"date": "2019-05-23", "series": "RBOB", "value": 0.092},
      {"date": "2019-05-27", "series": "RBOB", "value": 0.145},
      {"date": "2019-05-31", "series": "RBOB", "value": 0.108},
      {"date": "2019-06-05", "series": "RBOB", "value": 0.120},
      {"date": "2019-06-10", "series": "RBOB", "value": 0.118},
      {"date": "2019-06-15", "series": "RBOB", "value": 0.075},
      {"date": "2019-06-20", "series": "RBOB", "value": 0.065},
      {"date": "2019-06-27", "series": "RBOB", "value": 0.057},
      {"date": "2019-07-02", "series": "RBOB", "value": 0.060},
      {"date": "2019-07-04", "series": "RBOB", "value": 0.163},
      {"date": "2019-07-12", "series": "RBOB", "value": 0.168},
      {"date": "2019-07-19", "series": "RBOB", "value": 0.178},
      {"date": "2019-07-24", "series": "RBOB", "value": 0.143},
      {"date": "2019-08-01", "series": "RBOB", "value": 0.138},
      {"date": "2019-08-06", "series": "RBOB", "value": 0.143},
      {"date": "2019-08-11", "series": "RBOB", "value": 0.128},
      {"date": "2019-08-16", "series": "RBOB", "value": 0.118},
      {"date": "2019-08-21", "series": "RBOB", "value": 0.103},
      {"date": "2019-08-28", "series": "RBOB", "value": 0.092},
      {"date": "2019-09-03", "series": "RBOB", "value": 0.072},
      {"date": "2019-09-08", "series": "RBOB", "value": 0.057},
      {"date": "2019-09-12", "series": "RBOB", "value": 0.025},
      {"date": "2019-09-17", "series": "RBOB", "value": 0.037},
      {"date": "2019-09-23", "series": "RBOB", "value": 0.150},
      {"date": "2019-09-30", "series": "RBOB", "value": 0.158},
      {"date": "2019-10-04", "series": "RBOB", "value": 0.153},
      {"date": "2019-10-10", "series": "RBOB", "value": 0.148},
      {"date": "2019-10-15", "series": "RBOB", "value": 0.120},
      {"date": "2019-10-20", "series": "RBOB", "value": 0.148},
      {"date": "2019-10-27", "series": "RBOB", "value": 0.153},
      {"date": "2019-11-04", "series": "RBOB", "value": 0.155},
      {"date": "2019-11-12", "series": "RBOB", "value": 0.180},
      {"date": "2019-11-16", "series": "RBOB", "value": 0.163},
      {"date": "2019-11-21", "series": "RBOB", "value": 0.128},
      {"date": "2019-11-26", "series": "RBOB", "value": 0.128},
      {"date": "2019-12-01", "series": "RBOB", "value": 0.158},
      {"date": "2019-12-06", "series": "RBOB", "value": 0.138},
      {"date": "2019-12-11", "series": "RBOB", "value": 0.090},
      {"date": "2019-12-18", "series": "RBOB", "value": 0.105},
      {"date": "2019-12-22", "series": "RBOB", "value": 0.101},
      {"date": "2019-12-27", "series": "RBOB", "value": 0.120},
      {"date": "2020-01-06", "series": "RBOB", "value": 0.143},
      {"date": "2020-01-12", "series": "RBOB", "value": 0.129},
      {"date": "2020-01-19", "series": "RBOB", "value": 0.120},
      {"date": "2020-01-27", "series": "RBOB", "value": 0.124},
      {"date": "2020-02-01", "series": "RBOB", "value": 0.091},
      {"date": "2020-02-06", "series": "RBOB", "value": 0.105},
      {"date": "2020-02-11", "series": "RBOB", "value": 0.110},
      {"date": "2020-02-14", "series": "RBOB", "value": 0.091},
      {"date": "2020-02-18", "series": "RBOB", "value": 0.058},
      {"date": "2020-02-21", "series": "RBOB", "value": 0.110},
      {"date": "2020-02-27", "series": "RBOB", "value": 0.124},
      {"date": "2020-03-02", "series": "RBOB", "value": 0.172},
      {"date": "2020-03-07", "series": "RBOB", "value": 0.172},
      {"date": "2020-03-09", "series": "RBOB", "value": 0.091},
      {"date": "2020-03-13", "series": "RBOB", "value": 0.105},
      {"date": "2020-03-15", "series": "RBOB", "value": 0.039},
      {"date": "2020-03-18", "series": "RBOB", "value": -0.004},
      {"date": "2020-03-19", "series": "RBOB", "value": -0.099},
      {"date": "2020-03-20", "series": "RBOB", "value": -0.241},
      {"date": "2020-03-23", "series": "RBOB", "value": -0.270},
      {"date": "2020-03-26", "series": "RBOB", "value": -0.289},
      {"date": "2020-03-30", "series": "RBOB", "value": -0.384},
      {"date": "2020-04-03", "series": "RBOB", "value": -0.469},
      {"date": "2020-04-07", "series": "RBOB", "value": -0.393},
      {"date": "2020-04-11", "series": "RBOB", "value": -0.422},
      {"date": "2020-04-14", "series": "RBOB", "value": -0.384},
      {"date": "2020-04-18", "series": "RBOB", "value": -0.355},
      {"date": "2020-04-21", "series": "RBOB", "value": -0.379},
      {"date": "2020-04-28", "series": "RBOB", "value": -0.403},
      {"date": "2020-05-01", "series": "RBOB", "value": -0.336},
      {"date": "2020-05-05", "series": "RBOB", "value": -0.251},
      {"date": "2020-05-09", "series": "RBOB", "value": -0.279},
      {"date": "2020-05-14", "series": "RBOB", "value": -0.194},
      {"date": "2020-05-17", "series": "RBOB", "value": -0.123},
      {"date": "2020-05-21", "series": "RBOB", "value": -0.184},
      {"date": "2020-05-27", "series": "RBOB", "value": -0.146},
      {"date": "2020-06-02", "series": "RBOB", "value": -0.099},
      {"date": "2020-06-05", "series": "RBOB", "value": -0.175},
      {"date": "2020-06-10", "series": "RBOB", "value": -0.127},
      {"date": "2020-06-14", "series": "RBOB", "value": -0.099},
      {"date": "2020-06-20", "series": "RBOB", "value": -0.089},
      {"date": "2020-06-27", "series": "RBOB", "value": -0.061},
      {"date": "2020-07-02", "series": "RBOB", "value": -0.028},
      {"date": "2020-07-07", "series": "RBOB", "value": -0.018},
      {"date": "2020-07-12", "series": "RBOB", "value": -0.075},
      {"date": "2020-07-17", "series": "RBOB", "value": -0.032},
      {"date": "2020-07-25", "series": "RBOB", "value": -0.028},
      {"date": "2020-07-30", "series": "RBOB", "value": -0.042},
      {"date": "2020-08-06", "series": "RBOB", "value": -0.042},
      {"date": "2020-08-11", "series": "RBOB", "value": -0.066},
      {"date": "2020-08-16", "series": "RBOB", "value": -0.099},
      {"date": "2020-08-23", "series": "RBOB", "value": -0.113},
      {"date": "2020-09-01", "series": "RBOB", "value": -0.080},
      {"date": "2020-09-06", "series": "RBOB", "value": 0.020},
      {"date": "2020-09-09", "series": "RBOB", "value": -0.070},
      {"date": "2020-09-16", "series": "RBOB", "value": -0.070},
      {"date": "2020-09-23", "series": "RBOB", "value": -0.075},
      {"date": "2020-09-28", "series": "RBOB", "value": -0.032},
      {"date": "2020-10-05", "series": "RBOB", "value": -0.013},
      {"date": "2020-10-12", "series": "RBOB", "value": 0.006},
      {"date": "2020-10-20", "series": "RBOB", "value": 0.001},
      {"date": "2020-10-27", "series": "RBOB", "value": -0.023},
      {"date": "2020-11-04", "series": "RBOB", "value": -0.032},
      {"date": "2020-11-11", "series": "RBOB", "value": -0.047},
      {"date": "2020-11-19", "series": "RBOB", "value": -0.018},
      {"date": "2020-11-26", "series": "RBOB", "value": -0.023},
      {"date": "2020-12-04", "series": "RBOB", "value": 0.015},
      {"date": "2020-12-09", "series": "RBOB", "value": 0.001},
      {"date": "2020-12-13", "series": "RBOB", "value": -0.013},
      {"date": "2020-12-18", "series": "RBOB", "value": -0.010},
      {"date": "2020-12-23", "series": "RBOB", "value": -0.004},
      {"date": "2020-12-29", "series": "RBOB", "value": 0.044},
      {"date": "2021-01-05", "series": "RBOB", "value": 0.054},
      {"date": "2021-01-11", "series": "RBOB", "value": 0.067},
      {"date": "2021-01-16", "series": "RBOB", "value": 0.053},
      {"date": "2021-01-20", "series": "RBOB", "value": 0.109},
      {"date": "2021-01-25", "series": "RBOB", "value": 0.112},
      {"date": "2021-02-02", "series": "RBOB", "value": 0.109},
      {"date": "2021-02-08", "series": "RBOB", "value": 0.143},
      {"date": "2021-02-12", "series": "RBOB", "value": 0.147},
      {"date": "2021-02-16", "series": "RBOB", "value": 0.133},
      {"date": "2021-02-20", "series": "RBOB", "value": 0.129},
      {"date": "2021-02-22", "series": "RBOB", "value": 0.095},
      {"date": "2021-02-26", "series": "RBOB", "value": 0.133},
      {"date": "2021-03-01", "series": "RBOB", "value": 0.188},
      {"date": "2021-03-05", "series": "RBOB", "value": 0.212},
      {"date": "2021-03-08", "series": "RBOB", "value": 0.222},
      {"date": "2021-03-11", "series": "RBOB", "value": 0.181},
      {"date": "2021-03-16", "series": "RBOB", "value": 0.157},
      {"date": "2021-03-20", "series": "RBOB", "value": 0.181},
      {"date": "2021-03-24", "series": "RBOB", "value": 0.212},
      {"date": "2021-03-27", "series": "RBOB", "value": 0.181},
      {"date": "2021-03-30", "series": "RBOB", "value": 0.126},
      {"date": "2021-04-03", "series": "RBOB", "value": 0.116},
      {"date": "2021-04-09", "series": "RBOB", "value": 0.119},
      {"date": "2021-04-15", "series": "RBOB", "value": 0.102},
      {"date": "2021-04-23", "series": "RBOB", "value": 0.105},
      {"date": "2021-04-27", "series": "RBOB", "value": 0.126},
      {"date": "2021-05-03", "series": "RBOB", "value": 0.081},
      {"date": "2021-05-10", "series": "RBOB", "value": 0.105},
      {"date": "2021-05-14", "series": "RBOB", "value": 0.143},
      {"date": "2021-05-18", "series": "RBOB", "value": 0.116},
      {"date": "2021-05-26", "series": "RBOB", "value": 0.122},
      {"date": "2021-06-02", "series": "RBOB", "value": 0.105},
      {"date": "2021-06-06", "series": "RBOB", "value": 0.078},
      {"date": "2021-06-10", "series": "RBOB", "value": 0.098},
      {"date": "2021-06-14", "series": "RBOB", "value": 0.105},
      {"date": "2021-06-20", "series": "RBOB", "value": 0.098},
      {"date": "2021-06-26", "series": "RBOB", "value": 0.088},
      {"date": "2021-07-02", "series": "RBOB", "value": 0.105},
      {"date": "2021-07-05", "series": "RBOB", "value": 0.140},
      {"date": "2021-07-11", "series": "RBOB", "value": 0.157},
      {"date": "2021-07-15", "series": "RBOB", "value": 0.174},
      {"date": "2021-07-19", "series": "RBOB", "value": 0.178},
      {"date": "2021-07-23", "series": "RBOB", "value": 0.184},
      {"date": "2021-07-29", "series": "RBOB", "value": 0.181},
      {"date": "2021-08-03", "series": "RBOB", "value": 0.174},
      {"date": "2021-08-06", "series": "RBOB", "value": 0.219},
      {"date": "2021-08-11", "series": "RBOB", "value": 0.229},
      {"date": "2021-08-16", "series": "RBOB", "value": 0.252},
      {"date": "2021-08-18", "series": "RBOB", "value": 0.233}
    ]
  },
  "layer": [
    {
      "mark": {"type": "rule", "color": "#a6a6a6", "strokeWidth": 6, "strokeDash": [36, 14]},
      "encoding": {"y": {"datum": 0, "type": "quantitative"}}
    },
    {
      "data": {"name": "spread", "format": {"parse": {"date": "date:'%Y-%m-%d'"}}},
      "mark": {"type": "line", "strokeJoin": "round", "strokeCap": "round"},
      "encoding": {
        "x": {
          "field": "date",
          "type": "temporal",
          "scale": {"domain": [{"year": 2015, "month": 12, "date": 29}, {"year": 2021, "month": 9, "date": 10}]},
          "axis": {
            "values": [
              {"year": 2016, "month": 1, "date": 1},
              {"year": 2016, "month": 10, "date": 1},
              {"year": 2017, "month": 7, "date": 1},
              {"year": 2018, "month": 4, "date": 1},
              {"year": 2019, "month": 1, "date": 1},
              {"year": 2019, "month": 10, "date": 1},
              {"year": 2020, "month": 7, "date": 1},
              {"year": 2021, "month": 4, "date": 1}
            ],
            "format": "%b-%y",
            "grid": false,
            "ticks": false,
            "domain": true,
            "domainColor": "#6b6b6b",
            "domainWidth": 5,
            "labelFont": "Liberation Sans",
            "labelFontSize": 100,
            "labelColor": "#1a1a1a",
            "labelPadding": 70,
            "labelLimit": 2000,
            "labelFlush": false,
            "labelOverlap": false,
            "title": "U.S. EIA, Bloomberg LP, RBOB=reformulated blendstock for oxygenate blending, ULSD=ultra-low sulfur diesel",
            "titleFont": "Liberation Sans",
            "titleFontSize": 69.5,
            "titleFontWeight": "normal",
            "titleColor": "#9e9e9e",
            "titleAlign": "left",
            "titleAnchor": "start",
            "titleBaseline": "alphabetic",
            "titleLimit": 5000,
            "titleX": -83,
            "titleY": 669
          }
        },
        "y": {
          "field": "value",
          "type": "quantitative",
          "scale": {"domain": [-0.5, 0.3], "nice": false, "zero": false},
          "axis": {
            "values": [-0.5, -0.4, -0.3, -0.2, -0.1, 0, 0.1, 0.2, 0.3],
            "labelExpr": "replace(format(datum.value, '.2f'), '\u2212', '-')",
            "ticks": false,
            "domain": false,
            "grid": true,
            "gridColor": "#c4c4c4",
            "gridWidth": 3.5,
            "gridOpacity": {"condition": {"test": "datum.value === 0", "value": 0}, "value": 1},
            "labelFont": "Liberation Sans",
            "labelFontSize": 100,
            "labelColor": "#1a1a1a",
            "labelPadding": 48,
            "labelLimit": 2000,
            "title": "eia",
            "titleFont": "Liberation Sans",
            "titleFontSize": 138,
            "titleFontWeight": "normal",
            "titleColor": "#555555",
            "titleAngle": 0,
            "titleAlign": "left",
            "titleBaseline": "alphabetic",
            "titleX": -327,
            "titleY": 2116
          }
        },
        "color": {
          "field": "series",
          "type": "nominal",
          "scale": {"domain": ["RBOB", "ULSD"], "range": ["#bcd7ab", "#2d5016"]},
          "legend": {
            "orient": "none",
            "legendX": 1103,
            "legendY": 1700,
            "direction": "horizontal",
            "title": null,
            "symbolType": "stroke",
            "symbolSize": 9604,
            "symbolStrokeWidth": 14,
            "labelFont": "Liberation Sans",
            "labelFontSize": 100,
            "labelColor": "#4d6986",
            "labelLimit": 2000,
            "labelOffset": 22,
            "columnPadding": 29
          }
        },
        "strokeWidth": {
          "field": "series",
          "type": "nominal",
          "scale": {"domain": ["RBOB", "ULSD"], "range": [10, 13]},
          "legend": null
        }
      }
    }
  ]
}
